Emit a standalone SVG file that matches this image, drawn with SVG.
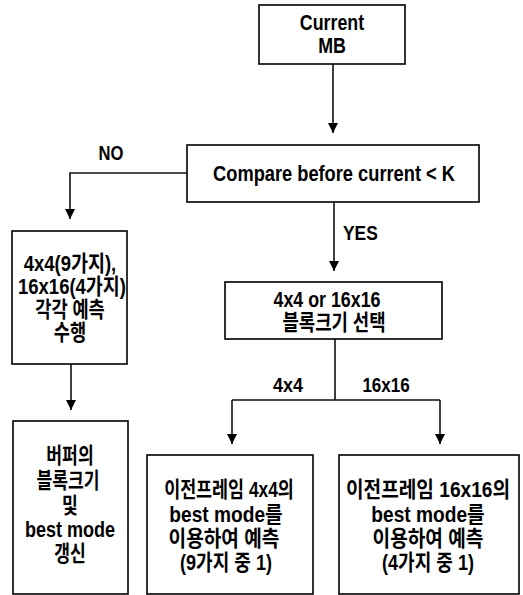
<svg xmlns="http://www.w3.org/2000/svg" width="523" height="595" viewBox="0 0 523 595">
<style>
.box{fill:#fff;stroke:#000;stroke-width:1.6}
.t{font-family:"Liberation Sans","Noto Sans CJK KR",sans-serif;font-weight:bold;font-size:22px;fill:#000;text-anchor:middle}
.lbl{font-family:"Liberation Sans","Noto Sans CJK KR",sans-serif;font-weight:bold;font-size:20px;fill:#000}
.c{fill:none;stroke:#111;stroke-width:1.6}
</style>
<defs>
<marker id="ah" markerUnits="userSpaceOnUse" markerWidth="10" markerHeight="12" refX="10" refY="5" orient="auto">
<path d="M0,0 L10,5 L0,10 z" fill="#000"/>
</marker>
</defs>
<rect width="523" height="595" fill="#fff"/>
<g id="connectors">
<line class="c" x1="333" y1="64" x2="333" y2="133" marker-end="url(#ah)"/>
<polyline class="c" points="187,173 70,173 70,219" marker-end="url(#ah)"/>
<line class="c" x1="334" y1="202" x2="334" y2="271" marker-end="url(#ah)"/>
<line class="c" x1="71" y1="364" x2="71" y2="410" marker-end="url(#ah)"/>
<line class="c" x1="335" y1="339" x2="335" y2="400"/>
<line class="c" x1="232" y1="400" x2="440" y2="400"/>
<line class="c" x1="232" y1="400" x2="232" y2="444" marker-end="url(#ah)"/>
<line class="c" x1="440" y1="400" x2="440" y2="444" marker-end="url(#ah)"/>
<text class="lbl" x="0" y="160" text-anchor="middle" transform="translate(111 0) scale(0.83 1)">NO</text>
<text class="lbl" x="0" y="240" transform="translate(343 0) scale(0.87 1)">YES</text>
<text class="lbl" x="0" y="392" text-anchor="middle" transform="translate(288 0) scale(0.9 1)">4x4</text>
<text class="lbl" x="0" y="392" text-anchor="middle" transform="translate(386 0) scale(0.85 1)">16x16</text>
</g>
<g id="current-mb">
<rect class="box" x="259" y="5" width="146" height="59"/>
<text class="t" x="0" y="30" transform="translate(332 0) scale(0.81 1)">Current</text>
<text class="t" x="0" y="53" transform="translate(332 0) scale(0.81 1)">MB</text>
</g>
<g id="compare">
<rect class="box" x="187" y="145" width="292" height="57"/>
<text class="t" x="0" y="181" transform="translate(334 0) scale(0.83 1)">Compare before current &lt; K</text>
</g>
<g id="full-predict">
<rect class="box" x="12" y="231" width="115" height="133"/>
<text class="t" x="0" y="271" transform="translate(70 0) scale(0.84 1)">4x4(9가지),</text>
<text class="t" x="0" y="294" transform="translate(72 0) scale(0.84 1)">16x16(4가지)</text>
<text class="t" x="0" y="317" transform="translate(70 0) scale(0.8 1)">각각 예측</text>
<text class="t" x="0" y="340" transform="translate(70 0) scale(0.8 1)">수행</text>
</g>
<g id="select-size">
<rect class="box" x="225" y="282" width="217" height="57"/>
<text class="t" x="0" y="307" transform="translate(327 0) scale(0.81 1)">4x4  or 16x16</text>
<text class="t" x="0" y="330" transform="translate(334 0) scale(0.81 1)">블록크기 선택</text>
</g>
<g id="update-buffer">
<rect class="box" x="13" y="421" width="115" height="173"/>
<text class="t" x="0" y="463" transform="translate(70 0) scale(0.78 1)">버퍼의</text>
<text class="t" x="0" y="488" transform="translate(68 0) scale(0.78 1)">블록크기</text>
<text class="t" x="0" y="513" transform="translate(70 0) scale(0.78 1)">및</text>
<text class="t" x="0" y="537" transform="translate(70 0) scale(0.82 1)">best mode</text>
<text class="t" x="0" y="561" transform="translate(70 0) scale(0.78 1)">갱신</text>
</g>
<g id="predict-4x4">
<rect class="box" x="147" y="455" width="166" height="139"/>
<text class="t" x="0" y="497" transform="translate(229 0) scale(0.79 1)">이전프레임 4x4의</text>
<text class="t" x="0" y="522" transform="translate(226 0) scale(0.87 1)">best mode를</text>
<text class="t" x="0" y="546" transform="translate(224 0) scale(0.87 1)">이용하여 예측</text>
<text class="t" x="0" y="570" transform="translate(226 0) scale(0.82 1)">(9가지 중 1)</text>
</g>
<g id="predict-16x16">
<rect class="box" x="339" y="455" width="180" height="139"/>
<text class="t" x="0" y="497" transform="translate(428 0) scale(0.87 1)">이전프레임 16x16의</text>
<text class="t" x="0" y="522" transform="translate(428 0) scale(0.87 1)">best mode를</text>
<text class="t" x="0" y="546" transform="translate(428 0) scale(0.87 1)">이용하여 예측</text>
<text class="t" x="0" y="570" transform="translate(428 0) scale(0.82 1)">(4가지 중 1)</text>
</g>
</svg>
